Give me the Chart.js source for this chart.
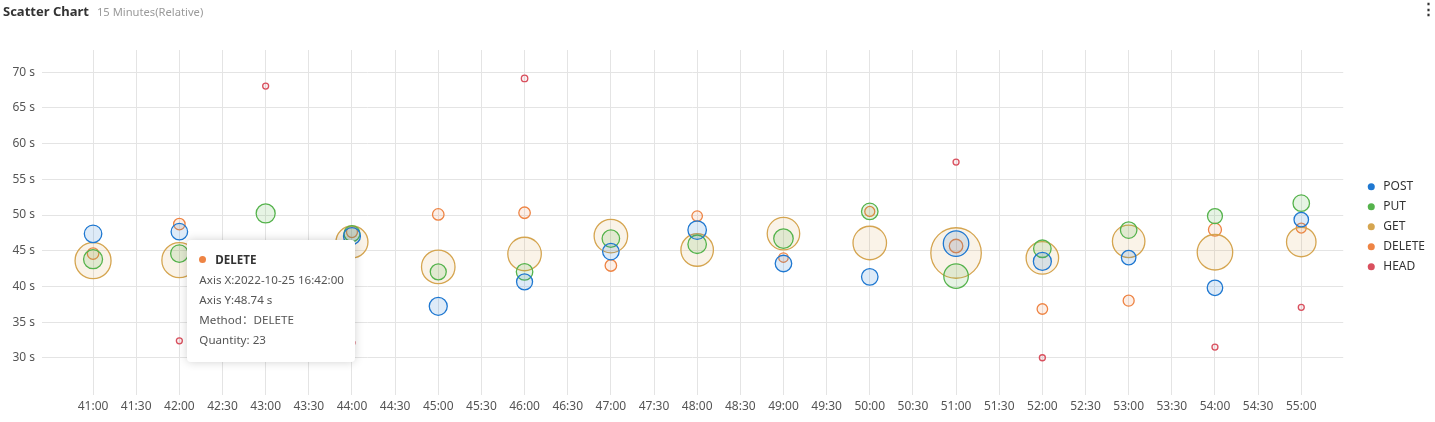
<!DOCTYPE html>
<html>
<head>
<meta charset="utf-8">
<script src="https://cdn.jsdelivr.net/npm/chart.js@4.4.0/dist/chart.umd.min.js"></script>
<style>
html,body{margin:0;padding:0;background:#fff;width:1435px;height:422px;overflow:hidden;font-family:"Noto Sans",sans-serif}
#wrap{position:relative;width:1435px;height:422px}
#c{position:absolute;left:0;top:0}
#title{position:absolute;left:3px;top:0;height:20px;line-height:20px;white-space:nowrap}
#title b{font-size:13px;color:#333;font-weight:700}
#title span{font-size:11.2px;color:#9a9a9a;margin-left:8px}
#menu{position:absolute;left:1421px;top:-1px;font-size:15px;font-weight:bold;color:#333;line-height:18px}
#tt{position:absolute;box-sizing:border-box;width:168px;background:#fff;border-radius:4px;box-shadow:0 0 10px rgba(0,0,0,0.18);padding:10px 12px 12px 12px;font-size:11.6px;line-height:20px;color:#555;white-space:nowrap;opacity:0;font-family:"Noto Sans","Noto Sans CJK SC",sans-serif}
#tt .dot{display:inline-block;width:7px;height:7px;border-radius:50%;margin-right:9px;vertical-align:1px}
#tt .t{font-weight:700;color:#333}
</style>
</head>
<body>
<div id="wrap">
  <canvas id="c" width="1435" height="422"></canvas>
  <div id="title"><b>Scatter Chart</b><span>15 Minutes(Relative)</span></div>
  <div id="menu">⋮</div>
  <div id="tt"></div>
</div>
<script>
// ---- data ----
const day = '2022-10-25';
const times = ['16:41:00','16:42:00','16:43:00','16:44:00','16:45:00','16:46:00','16:47:00','16:48:00','16:49:00','16:50:00','16:51:00','16:52:00','16:53:00','16:54:00','16:55:00'];
const methods = ['POST','PUT','GET','DELETE','HEAD'];
const postLatency   = [47.37, 47.67, 38.00, 47.06, 37.23, 40.65, 44.89, 47.90, 43.22, 41.35, 46.00, 43.51, 44.05, 39.82, 49.35];
const postQuantity  = [35, 33, 34, 34, 36, 32, 33, 37, 33, 33, 51, 36, 29, 31, 29];
const putLatency    = [43.82, 44.61, 50.22, 47.40, 42.05, 42.05, 46.70, 45.91, 46.70, 50.50, 41.45, 45.28, 47.90, 49.85, 51.66];
const putQuantity   = [38, 35, 38, 32, 32, 33, 35, 37, 39, 33, 49, 35, 33, 30, 33];
const getLatency    = [43.61, 43.68, 42.00, 46.23, 42.74, 44.55, 47.06, 45.11, 47.40, 46.09, 44.69, 44.00, 46.32, 44.79, 46.23];
const getQuantity   = [72, 70, 66, 64, 67, 67, 67, 65, 65, 67, 101, 65, 65, 71, 59];
const deleteLatency = [44.61, 48.74, 40.50, 47.62, 50.08, 50.32, 42.94, 49.85, 44.05, 50.50, 45.67, 36.85, 38.01, 47.95, 48.18];
const deleteQuantity= [23, 23, 22, 22, 23, 23, 23, 21, 19, 20, 27, 21, 22, 26, 20];
const headLatency   = [null, 32.40, 68.05, 32.12, null, 69.12, null, null, null, null, 57.42, 30.03, null, 31.52, 37.09];
const headQuantity  = [null, 12, 12, 12, null, 13, null, null, null, null, 12, 12, null, 12, 12];
const xTickLabels = ['41:00','41:30','42:00','42:30','43:00','43:30','44:00','44:30','45:00','45:30','46:00','46:30','47:00','47:30','48:00','48:30','49:00','49:30','50:00','50:30','51:00','51:30','52:00','52:30','53:00','53:30','54:00','54:30','55:00'];
const yTickValues = [30, 35, 40, 45, 50, 55, 60, 65, 70];
const colors = ['#1f78d1', '#55b34c', '#d5a550', '#ee8444', '#d9505e'];
const fills  = ['rgba(31,120,209,0.15)', 'rgba(85,179,76,0.15)', 'rgba(213,165,80,0.13)', 'rgba(238,132,68,0.13)', 'rgba(217,80,94,0.10)'];

// ---- helpers ----
const FONT = '"Noto Sans", sans-serif';
const mmss = s => { const p = s.split(':').map(Number); return p.length === 3 ? p[1] * 60 + p[2] : p[0] * 60 + p[1]; };
function series(lat, qty) {
  const out = [];
  lat.forEach((v, i) => { if (v !== null) out.push({x: mmss(times[i]), y: v, r: qty[i] / 4, q: qty[i], t: times[i]}); });
  return out;
}
const seriesData = [
  series(postLatency, postQuantity),
  series(putLatency, putQuantity),
  series(getLatency, getQuantity),
  series(deleteLatency, deleteQuantity),
  series(headLatency, headQuantity)
];
const datasets = methods.map((m, i) => ({
  label: m, data: seriesData[i],
  borderColor: colors[i], backgroundColor: fills[i],
  borderWidth: 1.3, hoverRadius: 0, hoverBorderWidth: 1.3
}));

const grid = {color: '#e4e4e4', lineWidth: 1, drawTicks: false};

function externalTooltip({chart, tooltip}) {
  const el = document.getElementById('tt');
  if (!tooltip || tooltip.opacity === 0 || !tooltip.dataPoints || !tooltip.dataPoints.length) { el.style.opacity = 0; return; }
  const dp = tooltip.dataPoints[0];
  const ds = chart.data.datasets[dp.datasetIndex];
  const raw = dp.raw;
  el.innerHTML =
    '<div><span class="dot" style="background:' + ds.borderColor + '"></span><span class="t">' + ds.label + '</span></div>' +
    '<div>Axis X:' + day + ' ' + raw.t + '</div>' +
    '<div>Axis Y:' + raw.y.toFixed(2) + ' s</div>' +
    '<div>Method：' + ds.label + '</div>' +
    '<div>Quantity: ' + raw.q + '</div>';
  el.style.left = (chart.canvas.offsetLeft + tooltip.caretX + 8) + 'px';
  el.style.top = (chart.canvas.offsetTop + tooltip.caretY + 16) + 'px';
  el.style.opacity = 1;
}

const chart = new Chart(document.getElementById('c'), {
  type: 'bubble',
  data: {datasets},
  options: {
    responsive: false,
    animation: false,
    devicePixelRatio: 1,
    events: [],
    layout: {padding: {top: 50, right: 0, bottom: 0, left: 0}},
    scales: {
      x: {
        type: 'linear', position: 'bottom', bounds: 'data',
        min: mmss('40:24') + 0.5, max: mmss('55:29') + 0.2,
        afterBuildTicks: s => { s.ticks = xTickLabels.map(l => ({value: mmss(l)})); },
        afterFit: s => { s.height = 25; },
        grid: grid,
        border: {display: false},
        ticks: {padding: 4, color: '#555', font: {size: 12, family: FONT}, maxRotation: 0, minRotation: 0, autoSkip: false,
                callback: (v, i) => xTickLabels[i]}
      },
      y: {
        type: 'linear', position: 'left', bounds: 'data',
        min: 24.75, max: 73.1,
        afterBuildTicks: s => { s.ticks = yTickValues.map(v => ({value: v})); },
        afterFit: s => { s.width = 42; },
        grid: grid,
        border: {display: false},
        ticks: {padding: 7, color: '#555', font: {size: 12, family: FONT}, callback: v => v + ' s'}
      },
      gap: {
        type: 'linear', position: 'right', display: true,
        afterFit: s => { s.width = 14; },
        grid: {display: false}, border: {display: false}, ticks: {display: false}
      }
    },
    plugins: {
      legend: {
        position: 'right', fullSize: false, align: 'center',
        title: {display: true, text: '', padding: 0, font: {size: 8, lineHeight: 1}},
        labels: {
          usePointStyle: true, boxWidth: 12, boxHeight: 5, padding: 8, color: '#333',
          font: {size: 12, family: FONT},
          generateLabels: c => c.data.datasets.map((d, i) => ({
            text: d.label, fillStyle: d.borderColor, strokeStyle: d.borderColor, lineWidth: 0,
            pointStyle: 'circle', hidden: false, datasetIndex: i, fontColor: '#333'
          }))
        }
      },
      tooltip: {enabled: false, external: externalTooltip}
    }
  }
});

// show the tooltip for DELETE at 16:42:00, as in the reference
const delIdx = seriesData[3].findIndex(p => p.t === '16:42:00');
chart.tooltip.setActiveElements([{datasetIndex: 3, index: delIdx}], {x: 0, y: 0});
chart.draw();
</script>
</body>
</html>
